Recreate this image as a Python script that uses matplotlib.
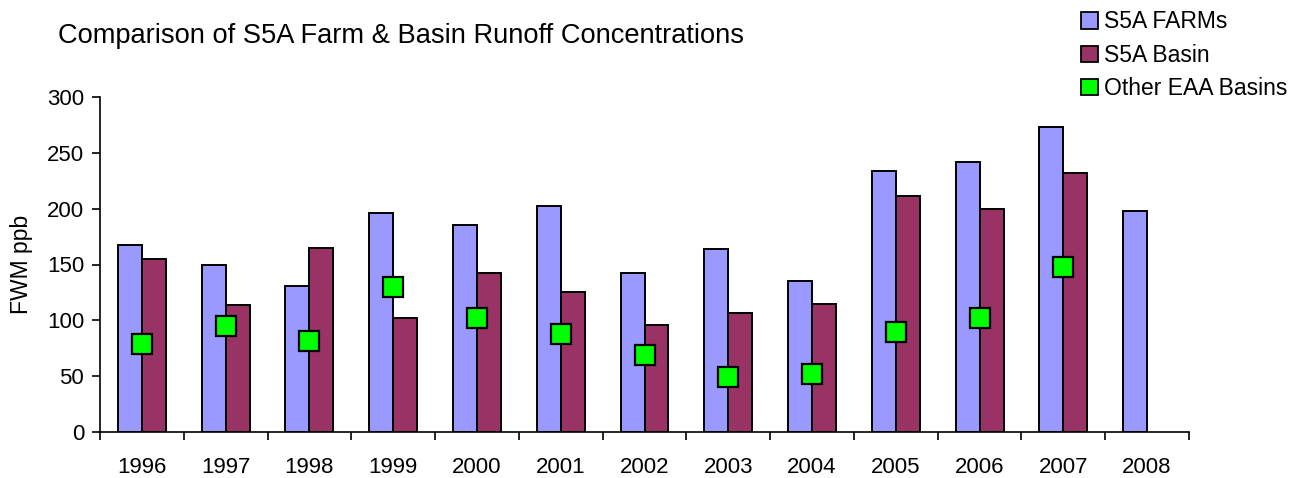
import matplotlib
matplotlib.use("Agg")
import matplotlib.pyplot as plt
import numpy as np
from matplotlib.patches import Patch
from matplotlib.ticker import FixedLocator

plt.rcParams['font.family'] = ['Liberation Sans', 'DejaVu Sans']

years = ['1996', '1997', '1998', '1999', '2000', '2001', '2002', '2003',
         '2004', '2005', '2006', '2007', '2008']
farms = [167, 150, 131, 196, 185, 202, 142, 164, 135, 234, 242, 273, 198]
basin = [155, 114, 165, 102, 142, 125, 96, 107, 115, 211, 200, 232, np.nan]
other = [79, 95, 82, 130, 102, 88, 69, 49, 52, 90, 102, 148, np.nan]

c_farms = '#9999FF'
c_basin = '#993366'
c_other = '#00FF00'

fig = plt.figure(figsize=(13, 4.78), dpi=100)
ax = fig.add_axes([100/1300, 1 - 432.3/478, 1089/1300, 335.6/478])

x = np.arange(len(years))
w = 0.286
ax.bar(x - w/2, farms, width=w, color=c_farms, edgecolor='black', linewidth=1.4, zorder=2)
ax.bar(x + w/2, basin, width=w, color=c_basin, edgecolor='black', linewidth=1.4, zorder=2)
ax.plot(x, other, linestyle='none', marker='s', markersize=15, markerfacecolor=c_other,
        markeredgecolor='black', markeredgewidth=1.6, zorder=3)

ax.set_xlim(-0.5, len(years) - 0.5)
ax.set_ylim(0, 300)
ax.set_yticks(np.arange(0, 301, 50))
ax.set_xticks(x)
ax.set_xticklabels(years)
ax.xaxis.set_minor_locator(FixedLocator(np.arange(-0.5, len(years), 1.0)))
ax.tick_params(axis='x', which='major', length=0, pad=18, labelsize=16)
ax.tick_params(axis='x', which='minor', length=5.5, width=1.2, direction='out')
ax.tick_params(axis='y', which='major', length=5.5, width=1.2, direction='out', pad=6, labelsize=16)
for s in ['top', 'right']:
    ax.spines[s].set_visible(False)
for s in ['left', 'bottom']:
    ax.spines[s].set_linewidth(1.2)

ax.set_ylabel('FWM ppb', fontsize=16.5, labelpad=10)

fig.text(58/1300, 1 - 36/478, 'Comparison of S5A Farm & Basin Runoff Concentrations',
         fontsize=19.6, ha='left', va='center')

handles = [Patch(facecolor=c_farms, edgecolor='black', linewidth=1.3),
           Patch(facecolor=c_basin, edgecolor='black', linewidth=1.3),
           Patch(facecolor=c_other, edgecolor='black', linewidth=1.3)]
labels = ['S5A FARMs', 'S5A Basin', 'Other EAA Basins']
fig.legend(handles, labels, loc='upper left', bbox_to_anchor=(1078/1300, 1 - 7/478),
           frameon=False, fontsize=16.5, handlelength=0.72, handleheight=0.72,
           handletextpad=0.28, labelspacing=0.45, borderaxespad=0.0, borderpad=0.15)

fig.savefig('out.png', dpi=100)
